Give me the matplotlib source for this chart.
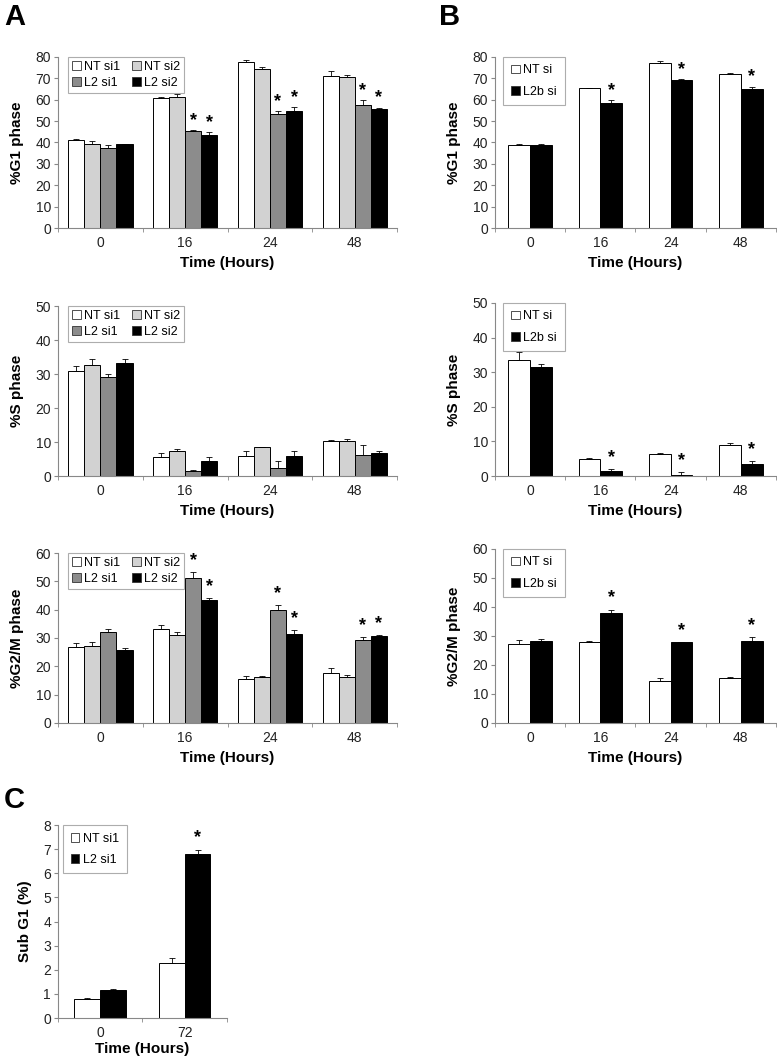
import numpy as np
import matplotlib
matplotlib.use("Agg")
import matplotlib.pyplot as plt
from matplotlib.patches import Patch

plt.rcParams['font.family'] = ['Liberation Sans', 'DejaVu Sans']

# ---- data ----
times_ab = ["0", "16", "24", "48"]
times_c = ["0", "72"]

labels_a = ["NT si1", "NT si2", "L2 si1", "L2 si2"]
colors_a = ["white", "#d2d2d2", "#8c8c8c", "black"]
labels_b = ["NT si", "L2b si"]
labels_c = ["NT si1", "L2 si1"]
colors_2 = ["white", "black"]

# panel A, rows = series (NT si1, NT si2, L2 si1, L2 si2), cols = time points
g1_a = [[41.3, 61.0, 77.5, 71.0],
        [39.5, 61.3, 74.5, 70.5],
        [37.3, 45.5, 53.5, 57.5],
        [39.2, 43.5, 54.5, 55.5]]
g1_a_err = [[0.5, 0.5, 1.0, 2.3],
            [1.2, 1.2, 0.8, 1.3],
            [1.5, 0.4, 1.0, 2.2],
            [0.3, 1.5, 2.0, 0.8]]
s_a = [[31.0, 5.7, 5.8, 10.3],
       [32.8, 7.5, 8.4, 10.2],
       [29.0, 1.4, 2.5, 6.2],
       [33.2, 4.5, 6.0, 6.7]]
s_a_err = [[1.3, 1.2, 1.6, 0.2],
           [1.6, 0.4, 0.2, 0.6],
           [1.0, 0.5, 2.0, 2.8],
           [1.3, 1.2, 1.4, 0.8]]
g2m_a = [[26.7, 33.0, 15.5, 17.6],
         [27.0, 31.0, 16.3, 16.2],
         [32.2, 51.2, 39.8, 29.3],
         [25.8, 43.5, 31.3, 30.6]]
g2m_a_err = [[1.4, 1.6, 1.2, 1.9],
             [1.5, 1.0, 0.2, 0.7],
             [1.0, 2.0, 2.0, 1.0],
             [0.8, 0.6, 1.5, 0.4]]
stars_g1_a = [(2, 1), (3, 1), (2, 2), (3, 2), (2, 3), (3, 3)]
stars_g2m_a = [(2, 1), (3, 1), (2, 2), (3, 2), (2, 3), (3, 3)]

# panel B, rows = (NT si, L2b si)
g1_b = [[39.0, 65.3, 77.0, 72.2],
        [38.8, 58.7, 69.4, 65.1]]
g1_b_err = [[0.3, 0.2, 1.3, 0.4],
            [0.5, 1.3, 0.4, 1.0]]
s_b = [[33.6, 4.9, 6.4, 8.9],
       [31.5, 1.4, 0.4, 3.4]]
s_b_err = [[2.2, 0.3, 0.2, 0.6],
           [1.0, 0.5, 0.7, 0.8]]
g2m_b = [[27.2, 27.8, 14.4, 15.5],
         [28.4, 37.8, 27.8, 28.3]]
g2m_b_err = [[1.3, 0.5, 1.2, 0.5],
             [0.4, 1.3, 0.2, 1.3]]
stars_b = [(1, 1), (1, 2), (1, 3)]

# panel C, rows = (NT si1, L2 si1)
subg1_c = [[0.78, 2.28],
           [1.15, 6.82]]
subg1_c_err = [[0.05, 0.22],
               [0.05, 0.15]]
stars_c = [(1, 1)]


def bar_panel(ax, vals, errs, cats, labels, colors, ymax, ystep, ylabel,
              group_w, stars, star_off, ncol, xlabelpad=4):
    vals = np.array(vals)
    errs = np.array(errs)
    n = len(vals)
    bw = group_w / n
    centers = np.arange(len(cats)) + 0.5
    for i in range(n):
        x = centers - group_w / 2 + bw * (i + 0.5)
        ax.bar(x, vals[i], width=bw, color=colors[i], edgecolor="black",
               linewidth=0.7, zorder=2)
        ax.errorbar(x, vals[i], yerr=[np.zeros(len(cats)), errs[i]], fmt="none",
                    ecolor="black", elinewidth=0.6, capsize=2.2, capthick=0.6,
                    zorder=3)
    for si, ci in stars:
        x = centers[ci] - group_w / 2 + bw * (si + 0.5)
        ax.text(x, vals[si, ci] + errs[si, ci] + star_off, "*", ha="center",
                va="center", fontsize=13, fontweight="bold")
    ax.set_xlim(0, len(cats))
    ax.set_ylim(0, ymax)
    ax.set_yticks(np.arange(0, ymax + ystep / 2, ystep))
    ax.set_xticks(centers)
    ax.set_xticklabels(cats)
    ax.set_xticks(np.arange(len(cats) + 1), minor=True)
    ax.tick_params(axis="x", which="major", length=0, pad=6, labelsize=10,
                   colors="#222222")
    ax.tick_params(axis="x", which="minor", length=3, color="#888888")
    ax.tick_params(axis="y", length=3, color="#888888", labelsize=10,
                   colors="#222222", pad=2)
    for sp in ["top", "right"]:
        ax.spines[sp].set_visible(False)
    for sp in ["left", "bottom"]:
        ax.spines[sp].set_color("#888888")
        ax.spines[sp].set_linewidth(0.8)
    ax.set_ylabel(ylabel, fontsize=11, fontweight="bold", labelpad=8)
    ax.set_xlabel("Time (Hours)", fontsize=11, fontweight="bold",
                  labelpad=xlabelpad)

    handles = [Patch(facecolor=c, edgecolor="#333333", linewidth=0.6)
               for c in colors]
    if ncol == 2:
        # row-major order like the original legend
        order = [0, 2, 1, 3]
        handles = [handles[k] for k in order]
        leg_labels = [labels[k] for k in order]
        leg = ax.legend(handles, leg_labels, loc="upper left", ncol=2,
                        fontsize=9, frameon=True, fancybox=False,
                        borderpad=0.3, handlelength=0.7, handleheight=0.7,
                        handletextpad=0.3, columnspacing=0.9,
                        labelspacing=0.35, borderaxespad=0,
                        bbox_to_anchor=(0.03, 1.0))
    else:
        leg = ax.legend(handles, labels, loc="upper left", ncol=1,
                        fontsize=9, frameon=True, fancybox=False,
                        borderpad=0.6, handlelength=0.7, handleheight=0.7,
                        handletextpad=0.3, labelspacing=0.75,
                        borderaxespad=0, bbox_to_anchor=(0.03, 1.0))
    leg.get_frame().set_edgecolor("#999999")
    leg.get_frame().set_linewidth(0.8)


fig = plt.figure(figsize=(7.77, 10.59), dpi=100)

axA1 = fig.add_axes([0.0746, 0.7847, 0.4365, 0.1615])
axA2 = fig.add_axes([0.0746, 0.5505, 0.4365, 0.1605])
axA3 = fig.add_axes([0.0746, 0.3173, 0.4365, 0.1605])
axB1 = fig.add_axes([0.637, 0.7847, 0.3617, 0.1615])
axB2 = fig.add_axes([0.637, 0.5505, 0.3617, 0.1634])
axB3 = fig.add_axes([0.637, 0.3173, 0.3617, 0.1643])
axC = fig.add_axes([0.0746, 0.0387, 0.2175, 0.1822])

bar_panel(axA1, g1_a, g1_a_err, times_ab, labels_a, colors_a, 80, 10,
          "%G1 phase", 0.76, stars_g1_a, 4.5, 2)
bar_panel(axA2, s_a, s_a_err, times_ab, labels_a, colors_a, 50, 10,
          "%S phase", 0.76, [], 3, 2)
bar_panel(axA3, g2m_a, g2m_a_err, times_ab, labels_a, colors_a, 60, 10,
          "%G2/M phase", 0.76, stars_g2m_a, 4, 2)
bar_panel(axB1, g1_b, g1_b_err, times_ab, labels_b, colors_2, 80, 10,
          "%G1 phase", 0.62, stars_b, 4.5, 1)
bar_panel(axB2, s_b, s_b_err, times_ab, labels_b, colors_2, 50, 10,
          "%S phase", 0.62, stars_b, 3.5, 1)
bar_panel(axB3, g2m_b, g2m_b_err, times_ab, labels_b, colors_2, 60, 10,
          "%G2/M phase", 0.62, stars_b, 4, 1)
bar_panel(axC, subg1_c, subg1_c_err, times_c, labels_c, colors_2, 8, 1,
          "Sub G1 (%)", 0.61, stars_c, 0.5, 1, xlabelpad=1)

fig.text(0.005, 0.997, "A", fontsize=21, fontweight="bold", va="top")
fig.text(0.565, 0.997, "B", fontsize=21, fontweight="bold", va="top")
fig.text(0.005, 0.258, "C", fontsize=21, fontweight="bold", va="top")

fig.savefig("out.png", dpi=100)
